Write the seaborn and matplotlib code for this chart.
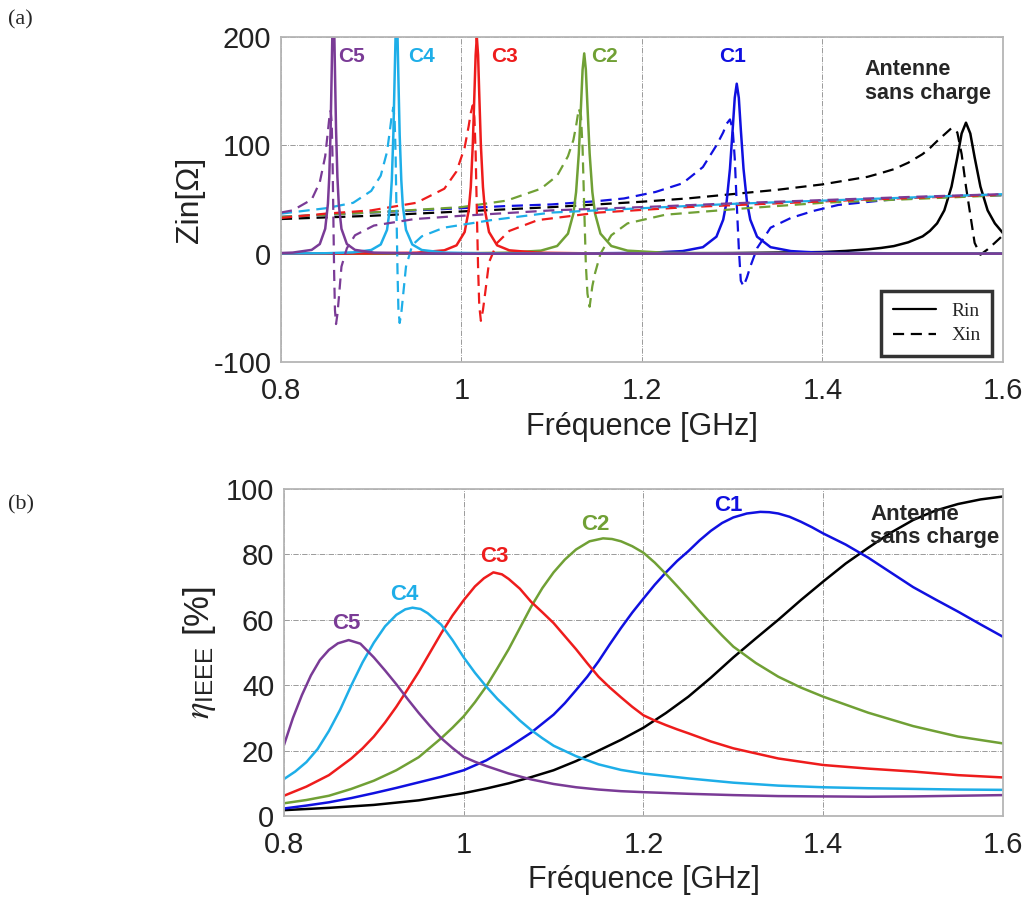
import matplotlib
matplotlib.use("Agg")
import matplotlib.pyplot as plt
from matplotlib.lines import Line2D
import pandas as pd
import seaborn as sns

# ---- (a) input impedance: Rin (solid) / Xin (dashed) ----
f_ant = [0.80, 0.90, 1.00, 1.10, 1.20, 1.25, 1.30, 1.35, 1.40, 1.425, 1.45, 1.465, 1.479, 1.495,
         1.511, 1.519, 1.527, 1.535, 1.543, 1.5494, 1.5542, 1.559, 1.5638, 1.5686, 1.575, 1.583,
         1.591, 1.6]
rin_ant = [0, 0, 0, 0.1, 0.3, 0.4, 0.6, 1, 1.5, 2.5, 4, 5.3, 7, 10.5, 16, 21, 28, 40, 62, 89, 111,
           121, 111, 89, 62, 40, 28, 19]
xin_ant = [32, 35, 39, 43, 48, 51, 55, 59, 64, 67.5, 71, 74.5, 78, 84, 92, 97.5, 104, 110, 116, 112,
           92, 62, 36, 10, -1, 4, 10, 17]

f_c1 = [0.80, 0.90, 1.00, 1.05, 1.10, 1.15, 1.18, 1.215, 1.245, 1.2675, 1.2825, 1.290, 1.2938,
        1.2975, 1.3005, 1.3028, 1.305, 1.3073, 1.3095, 1.3125, 1.3163, 1.320, 1.3275, 1.3425,
        1.365, 1.39, 1.4175, 1.47, 1.53, 1.6]
rin_c1 = [0, 0, 0.1, 0.1, 0.2, 0.4, 0.6, 1.1, 2.4, 6, 15.7, 31.4, 48, 78.5, 115, 144, 157, 144,
          115, 78.5, 48, 31.4, 15.7, 6, 2.4, 1.2, 0.7, 0.4, 0.2, 0.1]
xin_c1 = [34, 38, 42, 44, 45.5, 48.5, 51, 57, 65, 80, 100, 112, 120, 124, 115, 88, 46, 5, -25, -30,
          -22, -12, 5, 24, 33, 39.5, 45, 49.5, 53, 54]

f_c2 = [0.80, 0.90, 1.00, 1.05, 1.088, 1.106, 1.118, 1.124, 1.127, 1.130, 1.1324, 1.1342, 1.136,
        1.1378, 1.1396, 1.142, 1.145, 1.148, 1.154, 1.166, 1.184, 1.226, 1.316, 1.4, 1.5, 1.6]
rin_c2 = [0, 0, 0.4, 0.9, 2.8, 7.1, 18.5, 37, 57, 92.5, 136, 170, 185, 170, 136, 92.5, 57, 37,
          18.5, 7.1, 2.8, 0.8, 0.2, 0, 0, 0]
xin_c2 = [34, 38, 43, 49, 60, 72, 90, 105, 118, 134, 127, 97, 43, -10, -37, -49, -30, -18, 0, 17,
          28, 36, 42, 47, 50.5, 54]

f_c3 = [0.80, 0.85, 0.90, 0.95, 0.981, 0.9945, 1.0035, 1.008, 1.0103, 1.0125, 1.0143, 1.0157,
        1.017, 1.0184, 1.0197, 1.0215, 1.0238, 1.026, 1.0305, 1.0395, 1.053, 1.0845, 1.152, 1.25,
        1.35, 1.45, 1.6]
rin_c3 = [0, 0, 0.3, 0.9, 3.1, 7.7, 20, 40, 61.5, 100, 147, 183.5, 200, 183.5, 147, 100, 61.5, 40,
          20, 7.7, 3.1, 0.9, 0.2, 0, 0, 0, 0]
xin_c3 = [33, 37, 40, 47, 60, 76, 98, 118, 130, 137, 126, 93, 40, -13, -48, -62, -52, -38, -8, 10,
          21, 31, 38, 43, 46.5, 50, 54.5]

f_c4 = [0.80, 0.85, 0.88, 0.900, 0.9105, 0.9175, 0.921, 0.9228, 0.9245, 0.9259, 0.9270, 0.928,
        0.9291, 0.9301, 0.9315, 0.9333, 0.935, 0.9385, 0.9455, 0.956, 0.9805, 1.033, 1.1, 1.2,
        1.3, 1.4, 1.5, 1.6]
rin_c4 = [0.2, 0.4, 1.2, 3.4, 8.5, 22, 44, 68, 110, 162, 202, 220, 202, 162, 110, 68, 44, 22, 8.5,
          3.4, 1.0, 0.2, 0, 0, 0, 0, 0, 0]
xin_c4 = [37, 42, 47, 58, 72, 94, 116, 128, 135, 124, 92, 38, -16, -51, -64, -55, -41, -12, 8, 16,
          24, 31, 38, 42, 46, 49, 52, 55]

f_c5 = [0.800, 0.813, 0.834, 0.843, 0.849, 0.852, 0.8535, 0.855, 0.8562, 0.8571, 0.858, 0.8589,
        0.8598, 0.861, 0.8625, 0.864, 0.867, 0.873, 0.882, 0.903, 0.948, 1.0, 1.1, 1.2, 1.3, 1.4,
        1.5, 1.6]
rin_c5 = [0.6, 1.0, 3.5, 8.9, 23, 46, 71, 115, 169, 211, 230, 211, 169, 115, 71, 46, 23, 8.9, 3.5,
          1.0, 0.3, 0, 0, 0, 0, 0, 0, 0]
xin_c5 = [38, 40, 50, 66, 90, 113, 125, 132, 121, 89, 36, -18, -52, -65, -56, -42, -12, 5, 17, 26,
          32, 35, 40, 43, 46.5, 49.5, 52.5, 55]

# ---- (b) efficiency eta_IEEE [%] ----
f_e0 = [0.80, 0.85, 0.90, 0.95, 1.00, 1.025, 1.05, 1.075, 1.10, 1.125, 1.15, 1.175, 1.20, 1.225,
        1.25, 1.275, 1.30, 1.325, 1.35, 1.375, 1.40, 1.425, 1.45, 1.475, 1.50, 1.525, 1.55, 1.575,
        1.60]
eta_ant = [1.8, 2.5, 3.4, 4.8, 7, 8.4, 10, 11.9, 14, 16.8, 20, 23.3, 27, 31.5, 36.5, 42.3, 48.5,
           54.3, 60, 66, 71.7, 77.2, 82, 86.6, 90.5, 93.4, 95.4, 96.8, 97.7]

f_e1 = [0.80, 0.825, 0.85, 0.875, 0.90, 0.925, 0.95, 0.975, 1.00, 1.025, 1.05, 1.075, 1.10, 1.1125,
        1.125, 1.1375, 1.15, 1.1625, 1.175, 1.1875, 1.20, 1.2125, 1.225, 1.2375, 1.25, 1.2625,
        1.275, 1.2875, 1.30, 1.315, 1.33, 1.34, 1.35, 1.3625, 1.375, 1.3875, 1.40, 1.4125, 1.425,
        1.4375, 1.45, 1.475, 1.50, 1.525, 1.55, 1.575, 1.60]
eta_c1 = [2.3, 3.2, 4.2, 5.5, 7, 8.6, 10.3, 12, 14, 17, 21, 25.5, 31, 34.5, 38.5, 42.6, 47.3, 52.5,
          57.5, 62.2, 66.5, 70.7, 74.5, 78, 81, 84.3, 87.2, 89.6, 91.3, 92.5, 93, 92.9, 92.5, 91.5,
          90, 88.3, 86.4, 84.7, 83, 81, 79, 74.5, 70, 66.2, 62.5, 58.6, 54.8]

f_e2 = [0.80, 0.825, 0.85, 0.875, 0.90, 0.925, 0.95, 0.975, 0.9875, 1.00, 1.0125, 1.025, 1.0375,
        1.05, 1.0625, 1.075, 1.0875, 1.10, 1.1125, 1.125, 1.14, 1.155, 1.165, 1.175, 1.1875, 1.20,
        1.2125, 1.225, 1.2375, 1.25, 1.2625, 1.275, 1.2875, 1.30, 1.325, 1.35, 1.375, 1.40, 1.45,
        1.50, 1.55, 1.60]
eta_c2 = [3.9, 4.9, 6.2, 8.3, 10.8, 14, 18, 23.8, 27, 30.5, 34.8, 39.6, 45.2, 51, 57.5, 64, 69.7,
          74.5, 78.4, 81.5, 84, 84.9, 84.7, 84, 82.5, 80.5, 77.5, 74, 70.3, 66.5, 62.6, 58.8, 55.2,
          51.8, 46.8, 42.6, 39.3, 36.5, 31.6, 27.5, 24.3, 22.2]

f_e3 = [0.80, 0.825, 0.85, 0.875, 0.8875, 0.90, 0.9125, 0.925, 0.9375, 0.95, 0.9625, 0.975, 0.9875,
        1.00, 1.0125, 1.0225, 1.033, 1.0425, 1.05, 1.0625, 1.075, 1.0875, 1.10, 1.1125, 1.125,
        1.1375, 1.15, 1.1625, 1.175, 1.1875, 1.20, 1.2125, 1.225, 1.2375, 1.25, 1.275, 1.30, 1.35,
        1.40, 1.45, 1.50, 1.55, 1.60]
eta_c3 = [6.2, 9, 12.5, 17.6, 20.7, 24.3, 28.6, 33.4, 38.7, 44.1, 50, 55.9, 61.3, 66, 70.2, 72.7,
          74.5, 73.9, 72.5, 69.5, 65.5, 62.3, 59, 55, 51, 46.7, 42.6, 39.3, 36.3, 33.4, 30.8, 29.2,
          27.8, 26.5, 25.3, 22.8, 20.7, 17.6, 15.6, 14.5, 13.6, 12.5, 11.8]

f_e4 = [0.80, 0.8125, 0.825, 0.8375, 0.85, 0.8625, 0.875, 0.8875, 0.90, 0.9125, 0.925, 0.935, 0.943,
        0.952, 0.96, 0.975, 0.9875, 1.00, 1.0125, 1.025, 1.0375, 1.05, 1.0625, 1.075, 1.0875, 1.10,
        1.125, 1.15, 1.175, 1.20, 1.25, 1.30, 1.35, 1.40, 1.45, 1.50, 1.55, 1.60]
eta_c4 = [11.3, 13.6, 16.5, 20.5, 26, 32.5, 40, 47, 53, 58, 61.5, 63.2, 63.7, 63.3, 62, 58.5, 53.8,
          48.5, 43.8, 39.6, 35.8, 32.5, 29.2, 26.3, 23.8, 21.5, 18.3, 15.8, 14.1, 13, 11.5, 10.2,
          9.3, 8.8, 8.5, 8.3, 8.1, 8.0]

f_e5 = [0.80, 0.81, 0.82, 0.83, 0.84, 0.85, 0.86, 0.872, 0.885, 0.90, 0.9125, 0.925, 0.9375, 0.95,
        0.9625, 0.975, 0.9875, 1.00, 1.0125, 1.025, 1.05, 1.075, 1.10, 1.125, 1.15, 1.175, 1.20,
        1.25, 1.30, 1.35, 1.40, 1.45, 1.50, 1.55, 1.60]
eta_c5 = [21.7, 30, 37, 43, 47.7, 50.8, 52.8, 53.8, 52.7, 48.5, 44.5, 40.3, 35.8, 31.5, 27.5, 23.8,
          20.8, 18.1, 16.6, 15.3, 13, 11.2, 9.8, 8.8, 8.1, 7.6, 7.3, 6.8, 6.4, 6.1, 6.0, 5.9, 6.0,
          6.2, 6.4]

colors = ["#000000", "#1010e0", "#70a035", "#ee1c1c", "#1eaee8", "#7a3b96"]
xticks = [0.8, 1.0, 1.2, 1.4, 1.6]
xticklabels = ["0.8", "1", "1.2", "1.4", "1.6"]

sns.set_style("white")
plt.rcParams["font.family"] = ["Liberation Sans", "DejaVu Sans"]
plt.rcParams["axes.unicode_minus"] = False
plt.rcParams["mathtext.fontset"] = "custom"
plt.rcParams["mathtext.rm"] = "Liberation Sans"
plt.rcParams["mathtext.it"] = "STIXGeneral:italic"

fig = plt.figure(figsize=(10.27, 9.06), dpi=100)
ax1 = fig.add_axes([0.2736, 0.6005, 0.703, 0.3585])
ax2 = fig.add_axes([0.2765, 0.0993, 0.7001, 0.361])

imp = [(f_ant, rin_ant, xin_ant), (f_c1, rin_c1, xin_c1), (f_c2, rin_c2, xin_c2),
       (f_c3, rin_c3, xin_c3), (f_c4, rin_c4, xin_c4), (f_c5, rin_c5, xin_c5)]
for (f, r, x), c in zip(imp, colors):
    df = pd.DataFrame({"f": f, "R": r, "X": x})
    sns.lineplot(data=df, x="f", y="X", color=c, lw=1.6, linestyle=(0, (5, 3)), ax=ax1)
    sns.lineplot(data=df, x="f", y="R", color=c, lw=1.8, ax=ax1)

eff = [(f_e0, eta_ant), (f_e1, eta_c1), (f_e2, eta_c2), (f_e3, eta_c3), (f_e4, eta_c4), (f_e5, eta_c5)]
for (f, e), c in zip(eff, colors):
    df = pd.DataFrame({"f": f, "eta": e})
    sns.lineplot(data=df, x="f", y="eta", color=c, lw=1.8, ax=ax2)

for ax in (ax1, ax2):
    ax.set_xlim(0.8, 1.6)
    ax.set_xticks(xticks)
    ax.set_xticklabels(xticklabels)
    ax.tick_params(labelsize=21, length=0, colors="#222222")
    ax.tick_params(axis="x", pad=11)
    ax.tick_params(axis="y", pad=7)
    ax.grid(True, ls="-.", lw=0.6, color="#8a8a8a")
    ax.set_axisbelow(True)
    for s in ax.spines.values():
        s.set_color("#b5b5b5")
        s.set_linewidth(1.3)

ax1.set_xlabel("Fréquence [GHz]", fontsize=22, color="#222222", labelpad=5)
ax2.set_xlabel("Fréquence [GHz]", fontsize=22, color="#222222", labelpad=4)
ax1.set_ylim(-100, 200)
ax1.set_yticks([-100, 0, 100, 200])
ax1.set_ylabel("Zin[Ω]", fontsize=23, color="#222222", labelpad=6)
ax2.set_ylim(0, 100)
ax2.set_yticks([0, 20, 40, 60, 80, 100])
ax2.set_ylabel(r"$\eta_{\mathrm{IEEE}}$ [%]", fontsize=25, color="#222222", labelpad=6)

# curve labels
lab1 = [(0.878, "C5"), (0.956, "C4"), (1.048, "C3"), (1.158, "C2"), (1.300, "C1")]
for (xp, t), c in zip(lab1, colors[5:0:-1]):
    ax1.text(xp, 182, t, color=c, fontsize=15, fontweight="bold", ha="center", va="center")
ax1.text(1.447, 159, "Antenne\nsans charge", fontsize=15.5, fontweight="bold", ha="left",
         va="center", linespacing=1.15)

lab2 = [(0.869, 59, "C5"), (0.934, 67.6, "C4"), (1.034, 79.2, "C3"), (1.146, 89, "C2"), (1.294, 95, "C1")]
for (xp, yp, t), c in zip(lab2, colors[5:0:-1]):
    ax2.text(xp, yp, t, color=c, fontsize=16, fontweight="bold", ha="center", va="center")
ax2.text(1.452, 88.7, "Antenne\nsans charge", fontsize=16, fontweight="bold", ha="left",
         va="center", linespacing=1.1)

handles = [Line2D([], [], color="black", lw=1.6), Line2D([], [], color="black", lw=1.6, ls=(0, (5, 3)))]
leg = ax1.legend(handles, ["Rin", "Xin"], loc="lower right", bbox_to_anchor=(0.985, 0.018),
                 borderaxespad=0, frameon=True, fancybox=False, edgecolor="black",
                 prop={"family": "Liberation Serif", "size": 14}, handlelength=2.2,
                 borderpad=0.6, labelspacing=0.35)
leg.get_frame().set_linewidth(2.5)

fig.text(0.008, 0.978, "(a)", fontsize=16, family="Liberation Serif", va="center")
fig.text(0.008, 0.443, "(b)", fontsize=16, family="Liberation Serif", va="center")

fig.savefig("out.png", dpi=100)
